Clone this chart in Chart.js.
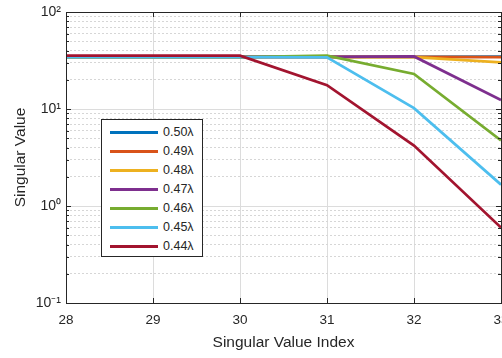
<!DOCTYPE html>
<html>
<head>
<meta charset="utf-8">
<script src="https://cdn.jsdelivr.net/npm/chart.js@4"></script>
<style>
  html, body { margin: 0; padding: 0; background: #fff; width: 502px; height: 358px; overflow: hidden; }
  #wrap { position: relative; width: 512px; height: 358px; }
  #legend {
    position: absolute; left: 101px; top: 119px; width: 100px; height: 136px;
    border: 1px solid #262626; background: #fff; box-sizing: content-box;
    font: 12.5px "Liberation Sans", Arial, sans-serif; color: #262626;
  }
  #legend .row { position: absolute; left: 0; height: 19px; }
  #legend .sw { position: absolute; left: 8px; top: 8px; width: 48px; height: 3px; }
  #legend .tx { position: absolute; left: 61px; top: 2px; white-space: nowrap; }
</style>
</head>
<body>
<div id="wrap">
  <canvas id="myChart"></canvas>
  <div id="legend"></div>
</div>
<script>
// x positions (singular value index)
const xValues = [28, 29, 30, 31, 32, 33];

// series names and values
const seriesNames = ['0.50λ', '0.49λ', '0.48λ', '0.47λ', '0.46λ', '0.45λ', '0.44λ'];
const s050 = [34.5, 34.5, 34.5, 34.5, 34.5, 34.6];
const s049 = [34.5, 34.5, 34.5, 34.5, 34.5, 34.2];
const s048 = [34.3, 34.3, 34.3, 34.3, 34.3, 30.3];
const s047 = [34.4, 34.4, 34.4, 34.4, 34.8, 12.4];
const s046 = [34.3, 34.3, 34.3, 35.5, 23.0, 4.75];
const s045 = [34.2, 34.2, 34.2, 34.0, 10.2, 1.66];
const s044 = [35.5, 35.5, 35.5, 17.6, 4.2, 0.60];
const seriesValues = [s050, s049, s048, s047, s046, s045, s044];
const seriesColors = ['#0072BD', '#D95319', '#EDB120', '#7E2F8E', '#77AC30', '#4DBEEE', '#A2142F'];

// y tick labels (log axis, decades only)
const yTickValues = [0.1, 1, 10, 100];
const yTickLabels = ['10⁻¹', '10⁰', '10¹', '10²'];

const FONT = '"Liberation Sans", Arial, sans-serif';
const TXT = '#262626';

function isDecade(v) {
  const l = Math.log10(v);
  return Math.abs(l - Math.round(l)) < 1e-9;
}

// box + inward tick marks like matlab
const boxPlugin = {
  id: 'box',
  afterDraw(chart) {
    const c = chart.ctx, a = chart.chartArea;
    const xs = chart.scales.x, ys = chart.scales.y;
    c.save();
    c.strokeStyle = TXT;
    c.lineWidth = 1;
    c.beginPath();
    xs.ticks.forEach(t => {
      const px = Math.round(xs.getPixelForValue(t.value)) + 0.5;
      c.moveTo(px, a.bottom); c.lineTo(px, a.bottom - 5);
      c.moveTo(px, a.top); c.lineTo(px, a.top + 5);
    });
    ys.ticks.forEach(t => {
      const py = Math.round(ys.getPixelForValue(t.value)) + 0.5;
      const len = isDecade(t.value) ? 5 : 3;
      c.moveTo(a.left, py); c.lineTo(a.left + len, py);
      c.moveTo(a.right, py); c.lineTo(a.right - len, py);
    });
    c.stroke();
    c.strokeRect(Math.round(a.left) + 0.5, Math.round(a.top) + 0.5,
                 Math.round(a.right - a.left), Math.round(a.bottom - a.top));
    c.restore();
  }
};

const ctx = document.getElementById('myChart');

var myChart = new Chart(ctx, {
  type: 'line',
  data: {
    datasets: seriesNames.map((name, i) => ({
      label: name,
      data: xValues.map((x, j) => ({ x: x, y: seriesValues[i][j] })),
      borderColor: seriesColors[i],
      backgroundColor: seriesColors[i],
      borderWidth: 2.7,
      pointRadius: 0,
      tension: 0,
      fill: false,
      order: seriesNames.length - i   // last series on top
    }))
  },
  options: {
    responsive: true,
    maintainAspectRatio: false,
    animation: false,
    layout: { padding: { top: 7, right: 11, left: 0, bottom: 0 } },
    plugins: {
      legend: { display: false },
      tooltip: { enabled: false }
    },
    scales: {
      x: {
        type: 'linear',
        min: 28,
        max: 33,
        ticks: {
          stepSize: 1,
          padding: 9,
          color: TXT,
          font: { family: FONT, size: 13.5 },
          maxRotation: 0
        },
        grid: { color: '#dcdcdc', lineWidth: 1, drawTicks: false },
        border: { display: false },
        title: {
          display: true,
          text: 'Singular Value Index',
          color: TXT,
          font: { family: FONT, size: 15.5, lineHeight: 1.2 },
          padding: { top: 0, bottom: 6 }
        },
        afterFit: s => {
          s.height = 55;
          // let the last label run off the edge, as in the original
          s.paddingLeft = 0;
          s.paddingRight = 0;
        }
      },
      y: {
        type: 'logarithmic',
        min: 0.1,
        max: 100,
        afterBuildTicks: s => {
          // keep only 1..9 x 10^n
          s.ticks = s.ticks.filter(t => {
            const m = t.value / Math.pow(10, Math.floor(Math.log10(t.value) + 1e-9));
            return Math.abs(m - Math.round(m)) < 1e-6;
          });
        },
        ticks: {
          autoSkip: false,
          padding: 5,
          color: TXT,
          font: { family: FONT, size: 14, lineHeight: 1 },
          callback: v => {
            const k = yTickValues.findIndex(t => Math.abs(t - v) < 1e-9);
            return k >= 0 ? yTickLabels[k] : '';
          }
        },
        grid: {
          drawTicks: false,
          lineWidth: 1,
          color: c => (c.tick && !isDecade(c.tick.value)) ? '#d6d6d6' : '#dcdcdc'
        },
        border: {
          display: false,
          dash: c => (c.tick && !isDecade(c.tick.value)) ? [2, 2] : []
        },
        title: {
          display: true,
          text: 'Singular Value',
          color: TXT,
          font: { family: FONT, size: 15.5, lineHeight: 1.2 },
          padding: { top: 11, bottom: 0 }
        },
        afterFit: s => { s.width = 66; }
      }
    }
  },
  plugins: [boxPlugin]
});

// legend in a box like the matlab one
const leg = document.getElementById('legend');
myChart.data.datasets.forEach((ds, i) => {
  const row = document.createElement('div');
  row.className = 'row';
  row.style.top = (3 + i * 19) + 'px';
  const sw = document.createElement('div');
  sw.className = 'sw';
  sw.style.background = ds.borderColor;
  const tx = document.createElement('div');
  tx.className = 'tx';
  tx.textContent = ds.label;
  row.appendChild(sw);
  row.appendChild(tx);
  leg.appendChild(row);
});
</script>
</body>
</html>
